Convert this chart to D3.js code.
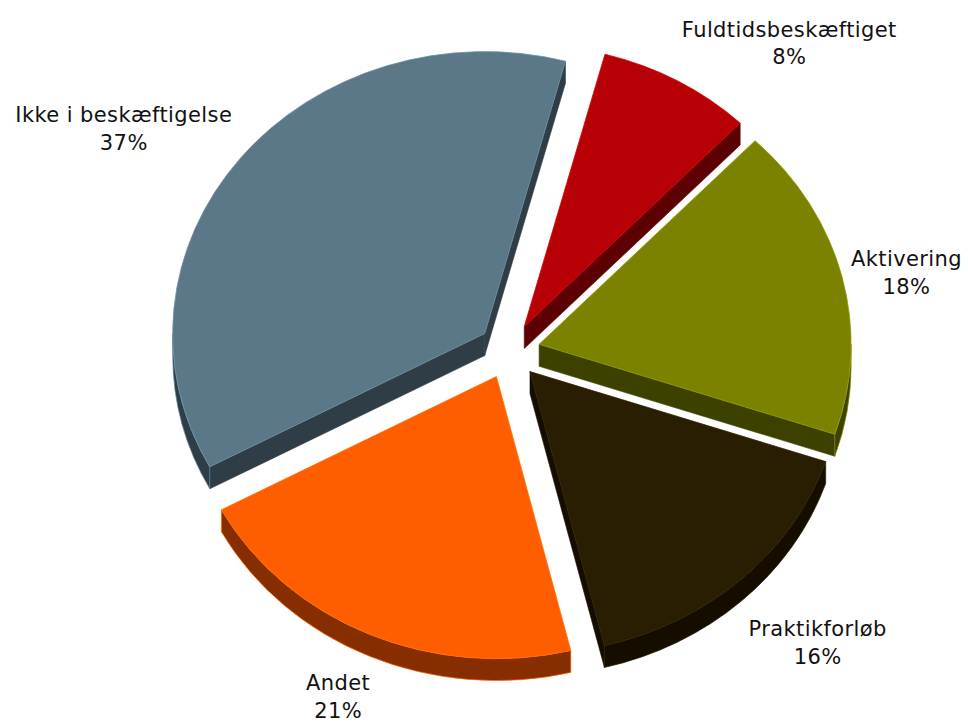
<!DOCTYPE html>
<html><head><meta charset="utf-8">
<script src="https://cdn.jsdelivr.net/npm/d3@7"></script>
<style>html,body{margin:0;padding:0;background:#fff;} svg{display:block;}</style>
</head><body>
<svg id="chart" width="968" height="722"></svg>
<script>
// ---- data ----
const categories = ["Fuldtidsbeskæftiget", "Aktivering", "Praktikforløb", "Andet", "Ikke i beskæftigelse"];
const values = [8, 18, 16, 21, 37];
const percentLabels = ["8%", "18%", "16%", "21%", "37%"];
// ---- palette ----
const topColors  = ["#B70005", "#7A8200", "#291E01", "#FF5E00", "#5B7889"];
const sideColors = ["#5C0003", "#3D4100", "#150E00", "#862E00", "#2E3D46"];

// ---- layout ----
const W = 968, H = 722;
const cx = 509, cy = 351, rx = 312, ry = 282, depth = 22, explode = 31;
const startAngle = 15 * Math.PI / 180;

const svg = d3.select("#chart");
svg.append("rect").attr("width", W).attr("height", H).attr("fill", "#fff");

const pie = d3.pie().sort(null).value(d => d)
  .startAngle(startAngle).endAngle(startAngle + 2 * Math.PI);
const arcs = pie(values);

function P(a, ox, oy, dz) {
  return [cx + ox + rx * Math.sin(a), cy + oy - ry * Math.cos(a) + (dz || 0)];
}
const fmt = p => p[0].toFixed(2) + "," + p[1].toFixed(2);

const slices = arcs.map((d, i) => {
  const mid = (d.startAngle + d.endAngle) / 2;
  const ox = explode * Math.sin(mid);
  const oy = -explode * (ry / rx) * Math.cos(mid);
  return { d, i, mid, ox, oy };
});

// back-to-front
const order = slices.slice().sort((a, b) => Math.cos(b.mid) - Math.cos(a.mid));

const g = svg.append("g");
order.forEach(s => {
  const { d, i, ox, oy } = s;
  const a0 = d.startAngle, a1 = d.endAngle;
  const apex = [cx + ox, cy + oy];
  const apexD = [apex[0], apex[1] + depth];
  const sg = g.append("g");
  // radial walls (only the ones facing the viewer)
  const walls = [];
  if (Math.sin(a0) < 0) walls.push(a0);
  if (Math.sin(a1) > 0) walls.push(a1);
  walls.forEach(a => {
    const r = P(a, ox, oy), rd = P(a, ox, oy, depth);
    sg.append("path")
      .attr("d", `M${fmt(apex)}L${fmt(r)}L${fmt(rd)}L${fmt(apexD)}Z`)
      .attr("fill", sideColors[i])
      .attr("stroke", sideColors[i]).attr("stroke-width", 0.6);
  });
  // outer wall (front half only)
  const b0 = Math.max(a0, Math.PI / 2), b1 = Math.min(a1, 3 * Math.PI / 2);
  if (b1 > b0) {
    const large = (b1 - b0) > Math.PI ? 1 : 0;
    const t0 = P(b0, ox, oy), t1 = P(b1, ox, oy);
    const d0 = P(b0, ox, oy, depth), d1 = P(b1, ox, oy, depth);
    sg.append("path")
      .attr("d", `M${fmt(t0)}A${rx},${ry} 0 ${large} 1 ${fmt(t1)}L${fmt(d1)}A${rx},${ry} 0 ${large} 0 ${fmt(d0)}Z`)
      .attr("fill", sideColors[i])
      .attr("stroke", d3.color(topColors[i]).brighter(0.3)).attr("stroke-width", 0.7);
  }
  // top face
  const p0 = P(a0, ox, oy), p1 = P(a1, ox, oy);
  const large = (a1 - a0) > Math.PI ? 1 : 0;
  sg.append("path")
    .attr("d", `M${fmt(apex)}L${fmt(p0)}A${rx},${ry} 0 ${large} 1 ${fmt(p1)}Z`)
    .attr("fill", topColors[i])
    .attr("stroke", d3.color(topColors[i]).brighter(0.5)).attr("stroke-width", 0.8)
    .attr("stroke-linejoin", "miter");
});

// ---- labels: box corner anchored on a clearance ellipse at the slice bisector ----
const lg = svg.append("g")
  .attr("font-family", "'DejaVu Sans', Verdana, sans-serif")
  .attr("font-size", 21).attr("letter-spacing", 0.4).attr("fill", "#111");
const lineGap = 27.5, asc = 19, desc = 32;  // box extents relative to first baseline
const clrA = rx + 36, clrB = ry + 48;       // clearance ellipse around the exploded pie
const clamp1 = v => Math.max(-1, Math.min(1, v));

slices.forEach(s => {
  const i = s.i;
  const t = lg.append("text").attr("text-anchor", "middle");
  t.append("tspan").attr("x", 0).attr("y", 0).text(categories[i]);
  t.append("tspan").attr("x", 0).attr("y", lineGap).text(percentLabels[i]);
  const w = t.node().getBBox().width + 8;
  const h = asc + desc;
  const sn = Math.sin(s.mid), cs = Math.cos(s.mid);
  const qx = cx + clrA * sn;
  const qy = cy + depth * (1 - cs) / 2 + 4 - clrB * cs;
  let x = qx + (w / 2) * clamp1(2 * sn);
  let y = qy - (h / 2) * clamp1(2 * cs);
  x = Math.max(w / 2, Math.min(W - w / 2, x));
  y = Math.max(h / 2, Math.min(H - h / 2, y));
  const baseY = y - h / 2 + asc;
  t.attr("transform", `translate(${x.toFixed(1)},${baseY.toFixed(1)})`);
});
</script>
</body></html>
